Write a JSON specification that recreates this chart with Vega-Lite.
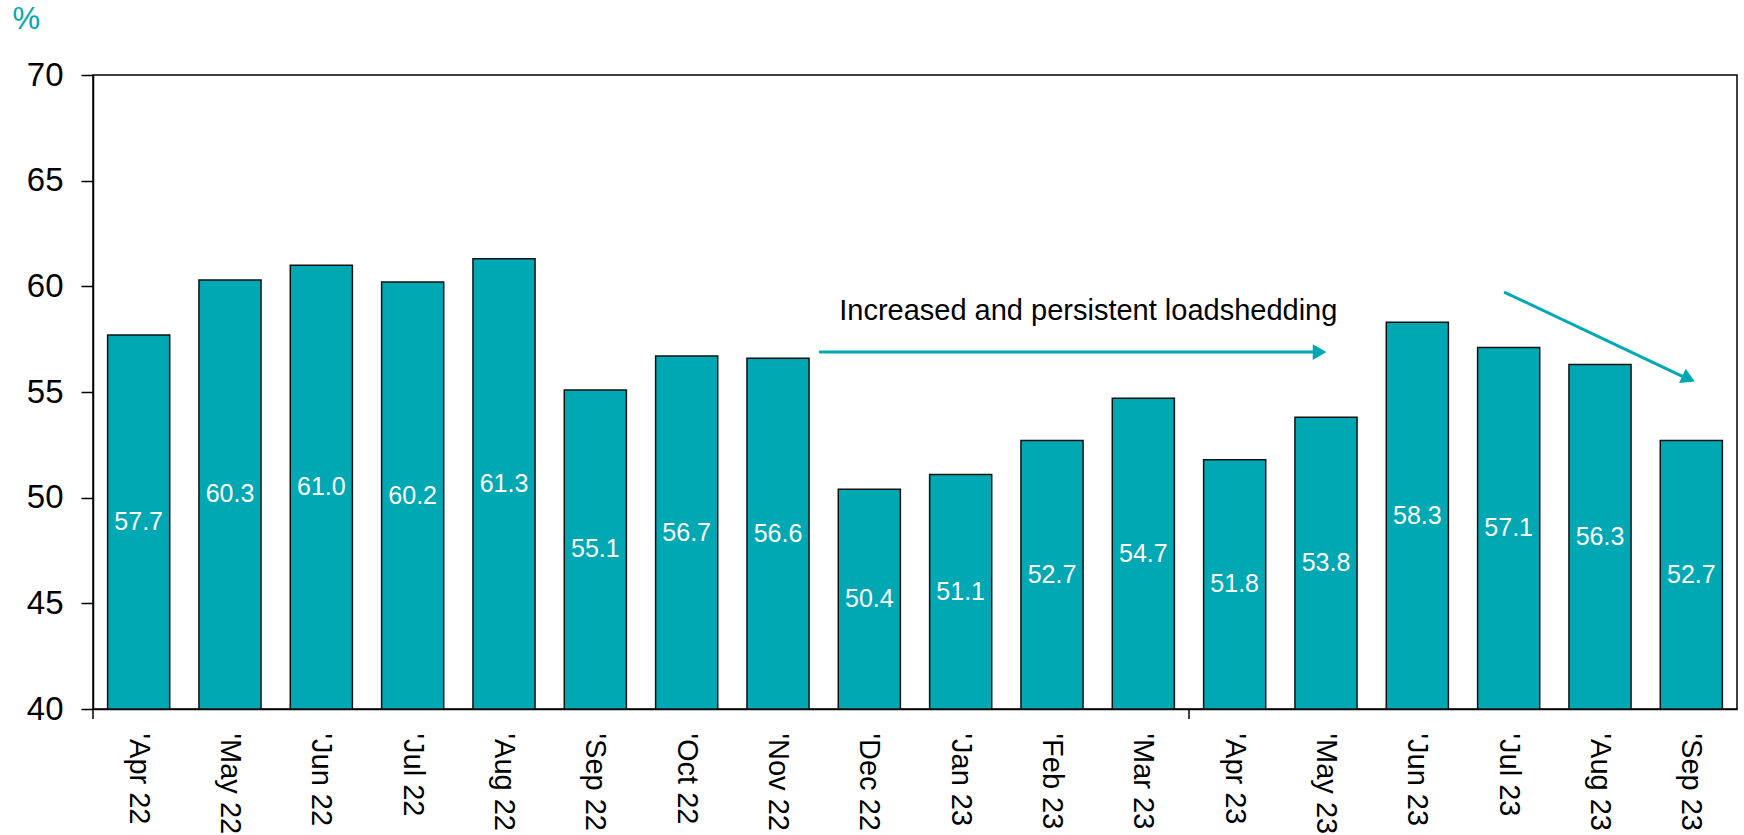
{
  "$schema": "https://vega.github.io/schema/vega-lite/v6.json",
  "width": 1644,
  "height": 634,
  "autosize": {"type": "none"},
  "padding": {"left": 93, "top": 75, "right": 7, "bottom": 126},
  "background": "white",
  "config": {
    "font": "Liberation Sans",
    "view": {"stroke": "#000000", "strokeWidth": 1.5}
  },
  "datasets": {
    "bars": [
      {"month": "'Apr 22", "v": 57.7},
      {"month": "'May 22", "v": 60.3},
      {"month": "'Jun 22", "v": 61.0},
      {"month": "'Jul 22", "v": 60.2},
      {"month": "'Aug 22", "v": 61.3},
      {"month": "'Sep 22", "v": 55.1},
      {"month": "'Oct 22", "v": 56.7},
      {"month": "'Nov 22", "v": 56.6},
      {"month": "'Dec 22", "v": 50.4},
      {"month": "'Jan 23", "v": 51.1},
      {"month": "'Feb 23", "v": 52.7},
      {"month": "'Mar 23", "v": 54.7},
      {"month": "'Apr 23", "v": 51.8},
      {"month": "'May 23", "v": 53.8},
      {"month": "'Jun 23", "v": 58.3},
      {"month": "'Jul 23", "v": 57.1},
      {"month": "'Aug 23", "v": 56.3},
      {"month": "'Sep 23", "v": 52.7}
    ],
    "yearticks": [{"t": 0}, {"t": 12}],
    "arrows": [
      {"x": 7.95, "y": 56.89, "x2": 13.38, "y2": 56.89},
      {"x": 15.45, "y": 59.73, "x2": 17.42, "y2": 55.7}
    ],
    "head1": [{"x": 13.43, "y": 56.89}],
    "head2": [{"x": 17.47, "y": 55.63}],
    "note": [{"x": 8.17, "y": 58.41, "label": "Increased and persistent loadshedding"}]
  },
  "layer": [
    {
      "data": {"name": "bars"},
      "mark": {"type": "bar", "fill": "#00A8B4", "stroke": "#111111", "strokeWidth": 1.5},
      "encoding": {
        "x": {
          "field": "month", "type": "nominal", "sort": null,
          "scale": {"paddingInner": 0.32, "paddingOuter": 0.16},
          "axis": {
            "title": null, "labelAngle": 90, "labelFontSize": 29, "labelColor": "#000000",
            "labelPadding": 24, "ticks": false, "domainColor": "#000000", "domainWidth": 1.5,
            "labelFont": "Liberation Sans"
          }
        },
        "y": {
          "field": "v", "type": "quantitative",
          "scale": {"domain": [40, 70], "nice": false, "zero": false},
          "axis": {
            "title": "%", "titleAngle": 0, "titleColor": "#00A8B4", "titleFontSize": 31,
            "titleFontWeight": "normal", "titleAlign": "left", "titleBaseline": "alphabetic",
            "titleX": -81, "titleY": -47, "titleFont": "Liberation Sans",
            "values": [40, 45, 50, 55, 60, 65, 70],
            "tickSize": 12, "tickColor": "#000000", "tickWidth": 1.5,
            "labelFontSize": 33, "labelColor": "#000000", "labelPadding": 18,
            "labelFont": "Liberation Sans",
            "domainColor": "#000000", "domainWidth": 1.5, "grid": false
          }
        },
        "y2": {"datum": 40}
      }
    },
    {
      "data": {"name": "bars"},
      "mark": {"type": "text", "color": "#ffffff", "fontSize": 25, "baseline": "middle", "align": "center"},
      "encoding": {
        "x": {
          "field": "month", "type": "nominal", "sort": null,
          "scale": {"paddingInner": 0.32, "paddingOuter": 0.16},
          "axis": null
        },
        "y": {
          "field": "v", "type": "quantitative",
          "scale": {"domain": [40, 100], "nice": false, "zero": false},
          "axis": null
        },
        "text": {"field": "v", "type": "quantitative", "format": ".1f"}
      }
    },
    {
      "data": {"name": "yearticks"},
      "mark": {"type": "rule", "color": "#000000", "strokeWidth": 1.5},
      "encoding": {
        "x": {"field": "t", "type": "quantitative", "scale": {"domain": [0, 18], "nice": false, "zero": false}, "axis": null},
        "y": {"datum": 40, "type": "quantitative", "scale": {"domain": [40, 70], "nice": false, "zero": false}, "axis": null},
        "y2": {"datum": 39.53}
      }
    },
    {
      "data": {"name": "arrows"},
      "mark": {"type": "rule", "color": "#00A8B4", "strokeWidth": 3},
      "encoding": {
        "x": {"field": "x", "type": "quantitative", "scale": {"domain": [0, 18], "nice": false, "zero": false}, "axis": null},
        "x2": {"field": "x2"},
        "y": {"field": "y", "type": "quantitative", "scale": {"domain": [40, 70], "nice": false, "zero": false}, "axis": null},
        "y2": {"field": "y2"}
      }
    },
    {
      "data": {"name": "head1"},
      "mark": {"type": "point", "shape": "triangle-right", "filled": true, "color": "#00A8B4", "opacity": 1, "size": 250, "angle": 0},
      "encoding": {
        "x": {"field": "x", "type": "quantitative", "scale": {"domain": [0, 18], "nice": false, "zero": false}, "axis": null},
        "y": {"field": "y", "type": "quantitative", "scale": {"domain": [40, 70], "nice": false, "zero": false}, "axis": null}
      }
    },
    {
      "data": {"name": "head2"},
      "mark": {"type": "point", "shape": "triangle-right", "filled": true, "color": "#00A8B4", "opacity": 1, "size": 250, "angle": 25},
      "encoding": {
        "x": {"field": "x", "type": "quantitative", "scale": {"domain": [0, 18], "nice": false, "zero": false}, "axis": null},
        "y": {"field": "y", "type": "quantitative", "scale": {"domain": [40, 70], "nice": false, "zero": false}, "axis": null}
      }
    },
    {
      "data": {"name": "note"},
      "mark": {"type": "text", "align": "left", "baseline": "alphabetic", "fontSize": 29, "color": "#000000"},
      "encoding": {
        "x": {"field": "x", "type": "quantitative", "scale": {"domain": [0, 18], "nice": false, "zero": false}, "axis": null},
        "y": {"field": "y", "type": "quantitative", "scale": {"domain": [40, 70], "nice": false, "zero": false}, "axis": null},
        "text": {"field": "label"}
      }
    }
  ],
  "resolve": {"scale": {"x": "independent", "y": "independent"}}
}
